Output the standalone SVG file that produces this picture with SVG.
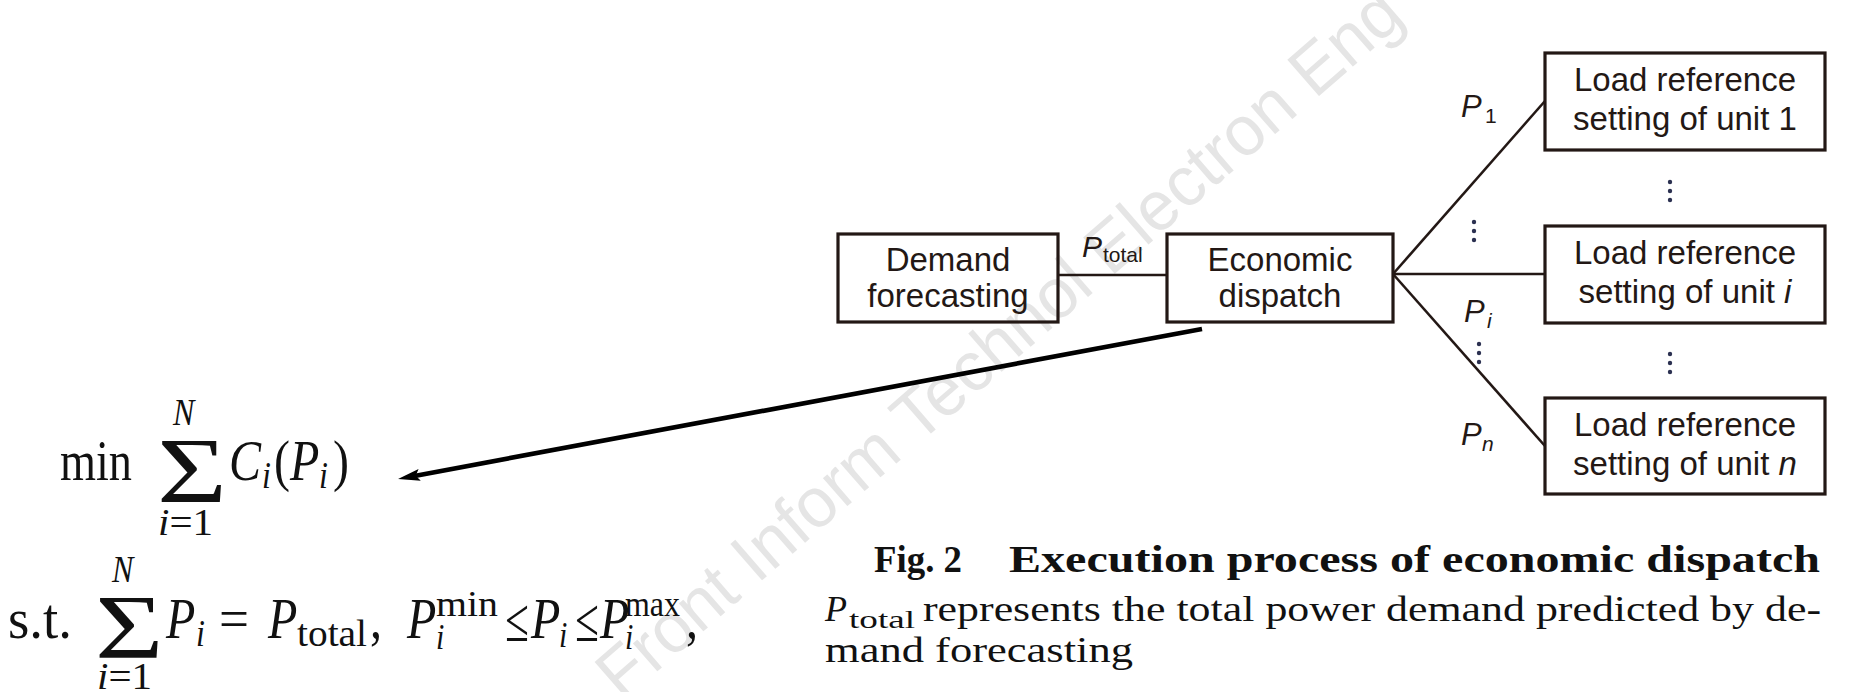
<svg xmlns="http://www.w3.org/2000/svg" width="1851" height="692" viewBox="0 0 1851 692">
<style>
.box{fill:none;stroke:#231815;stroke-width:3.2}
.ln{fill:none;stroke:#231815;stroke-width:2.6}
.bt{font-family:"Liberation Sans",Arial,sans-serif;font-size:33px;fill:#231815;text-anchor:middle}
.pl{font-family:"Liberation Sans",Arial,sans-serif;font-style:italic;fill:#231815}
.ps{font-family:"Liberation Sans",Arial,sans-serif;font-style:normal;fill:#231815}
.m{font-family:"Liberation Serif","Times New Roman",serif;fill:#111}
.it{font-style:italic}
.dot{fill:#2b3050}
.wm{font-family:"Liberation Sans",Arial,sans-serif;font-size:70px;fill:#e5e5e5}
</style>
<defs>
<marker id="ah" viewBox="0 0 22 12" refX="8" refY="6" markerWidth="22" markerHeight="12" markerUnits="userSpaceOnUse" orient="auto">
<path d="M0,0 L22,6 L0,12 L4,6 Z" fill="#000"/>
</marker>
</defs>
<rect width="1851" height="692" fill="#fff"/>
<text class="wm" x="622" y="702" transform="rotate(-41 622 702)" textLength="1040" lengthAdjust="spacingAndGlyphs">Front Inform Technol Electron Eng</text>

<g id="connectors">
<line class="ln" x1="1058" y1="275" x2="1167" y2="275"/>
<line class="ln" x1="1393" y1="274" x2="1545" y2="101"/>
<line class="ln" x1="1393" y1="274" x2="1545" y2="274"/>
<line class="ln" x1="1393" y1="274" x2="1545" y2="446"/>
<line x1="1202" y1="329" x2="411.8" y2="476.4" stroke="#000" stroke-width="4.6" marker-end="url(#ah)"/>
<g id="label-ptotal"><text class="pl" x="1082" y="257" font-size="30">P</text><text class="ps" x="1103" y="262" font-size="21">total</text></g>
<g id="label-p1"><text class="pl" x="1461" y="117" font-size="31">P</text><text class="ps" x="1485" y="123" font-size="21">1</text></g>
<g id="label-pi"><text class="pl" x="1464" y="322" font-size="31">P</text><text class="pl" x="1487" y="328" font-size="21">i</text></g>
<g id="label-pn"><text class="pl" x="1461" y="445" font-size="31">P</text><text class="pl" x="1482" y="451" font-size="21">n</text></g>
<g id="dots">
<circle class="dot" cx="1670" cy="182" r="2.2"/><circle class="dot" cx="1670" cy="191" r="2.2"/><circle class="dot" cx="1670" cy="200" r="2.2"/>
<circle class="dot" cx="1670" cy="354" r="2.2"/><circle class="dot" cx="1670" cy="363" r="2.2"/><circle class="dot" cx="1670" cy="372" r="2.2"/>
<circle class="dot" cx="1474" cy="222" r="2.2"/><circle class="dot" cx="1474" cy="231" r="2.2"/><circle class="dot" cx="1474" cy="240" r="2.2"/>
<circle class="dot" cx="1479" cy="344" r="2.2"/><circle class="dot" cx="1479" cy="353" r="2.2"/><circle class="dot" cx="1479" cy="362" r="2.2"/>
</g>
</g>

<g id="demand">
<rect class="box" x="838" y="234" width="220" height="88"/>
<text class="bt" x="948" y="271">Demand</text>
<text class="bt" x="948" y="307">forecasting</text>
</g>
<g id="economic">
<rect class="box" x="1167" y="234" width="226" height="88"/>
<text class="bt" x="1280" y="271">Economic</text>
<text class="bt" x="1280" y="307">dispatch</text>
</g>
<g id="unit1">
<rect class="box" x="1545" y="53" width="280" height="97"/>
<text class="bt" x="1685" y="91">Load reference</text>
<text class="bt" x="1685" y="130">setting of unit 1</text>
</g>
<g id="uniti">
<rect class="box" x="1545" y="226" width="280" height="97"/>
<text class="bt" x="1685" y="264">Load reference</text>
<text class="bt" x="1685" y="303">setting of unit <tspan font-style="italic">i</tspan></text>
</g>
<g id="unitn">
<rect class="box" x="1545" y="398" width="280" height="96"/>
<text class="bt" x="1685" y="436">Load reference</text>
<text class="bt" x="1685" y="475">setting of unit <tspan font-style="italic">n</tspan></text>
</g>

<g id="formula-objective">
<text class="m" x="60" y="480" font-size="48" textLength="72" lengthAdjust="spacingAndGlyphs" transform="matrix(1 0 0 1.2 0 -96)">min</text>
<text class="m" x="0" y="0" font-size="94" transform="translate(157,502) scale(1.28,1)">Σ</text>
<text class="m it" x="173" y="425" font-size="32" transform="matrix(1 0 0 1.2 0 -85)">N</text>
<text class="m" x="158" y="535" font-size="32" textLength="55" lengthAdjust="spacingAndGlyphs" transform="matrix(1 0 0 1.2 0 -107)"><tspan font-style="italic">i</tspan>=1</text>
<text class="m it" x="229" y="480" font-size="48" transform="matrix(1 0 0 1.2 0 -96)">C</text>
<text class="m it" x="262" y="488" font-size="32" transform="matrix(1 0 0 1.2 0 -97.6)">i</text>
<text class="m" x="274" y="480" font-size="48" transform="matrix(1 0 0 1.2 0 -96)">(</text>
<text class="m it" x="290" y="480" font-size="48" transform="matrix(1 0 0 1.2 0 -96)">P</text>
<text class="m it" x="319" y="488" font-size="32" transform="matrix(1 0 0 1.2 0 -97.6)">i</text>
<text class="m" x="333" y="480" font-size="48" transform="matrix(1 0 0 1.2 0 -96)">)</text>
</g>
<g id="formula-constraint">
<text class="m" x="8" y="638" font-size="48" textLength="64" lengthAdjust="spacingAndGlyphs" transform="matrix(1 0 0 1.2 0 -127.6)">s.t.</text>
<text class="m" x="0" y="0" font-size="92" transform="translate(95,658) scale(1.28,1)">Σ</text>
<text class="m it" x="112" y="582" font-size="32" transform="matrix(1 0 0 1.2 0 -116.4)">N</text>
<text class="m" x="97" y="689" font-size="32" textLength="55" lengthAdjust="spacingAndGlyphs" transform="matrix(1 0 0 1.2 0 -137.8)"><tspan font-style="italic">i</tspan>=1</text>
<text class="m it" x="166" y="638" font-size="48" transform="matrix(1 0 0 1.2 0 -127.6)">P</text>
<text class="m it" x="196" y="646" font-size="32" transform="matrix(1 0 0 1.2 0 -129.2)">i</text>
<text class="m" x="219" y="638" font-size="48" textLength="30" lengthAdjust="spacingAndGlyphs" transform="matrix(1 0 0 1.2 0 -127.6)">=</text>
<text class="m it" x="268" y="638" font-size="48" transform="matrix(1 0 0 1.2 0 -127.6)">P</text>
<text class="m" x="297" y="646" font-size="32" textLength="70" lengthAdjust="spacingAndGlyphs" transform="matrix(1 0 0 1.2 0 -129.2)">total</text>
<text class="m" x="370" y="638" font-size="48" transform="matrix(1 0 0 1.2 0 -127.6)">,</text>
<text class="m it" x="407" y="638" font-size="48" transform="matrix(1 0 0 1.2 0 -127.6)">P</text>
<text class="m" x="436" y="616" font-size="30" textLength="62" lengthAdjust="spacingAndGlyphs" transform="matrix(1 0 0 1.2 0 -123.2)">min</text>
<text class="m it" x="436" y="649" font-size="30" transform="matrix(1 0 0 1.2 0 -129.8)">i</text>
<text class="m" x="505" y="641" font-size="54" transform="matrix(0.8 0 0 1.15 101 -96.15)">≤</text>
<text class="m it" x="531" y="638" font-size="48" transform="matrix(1 0 0 1.2 0 -127.6)">P</text>
<text class="m it" x="559" y="647" font-size="30" transform="matrix(1 0 0 1.2 0 -129.4)">i</text>
<text class="m" x="575" y="641" font-size="54" transform="matrix(0.8 0 0 1.15 115 -96.15)">≤</text>
<text class="m it" x="600" y="638" font-size="48" transform="matrix(1 0 0 1.2 0 -127.6)">P</text>
<text class="m" x="625" y="616" font-size="30" textLength="55" lengthAdjust="spacingAndGlyphs" transform="matrix(1 0 0 1.2 0 -123.2)">max</text>
<text class="m it" x="625" y="649" font-size="30" transform="matrix(1 0 0 1.2 0 -129.8)">i</text>
<text class="m" x="686" y="638" font-size="48" transform="matrix(1 0 0 1.2 0 -127.6)">,</text>
</g>

<g id="caption">
<text class="m" x="874" y="572" font-size="37" font-weight="bold" textLength="88" lengthAdjust="spacingAndGlyphs">Fig. 2</text>
<text class="m" x="1009" y="572" font-size="37" font-weight="bold" textLength="811" lengthAdjust="spacingAndGlyphs">Execution process of economic dispatch</text>
<text class="m it" x="825" y="621" font-size="36">P</text>
<text class="m" x="849" y="628" font-size="26" textLength="66" lengthAdjust="spacingAndGlyphs">total</text>
<text class="m" x="923" y="621" font-size="36" textLength="898" lengthAdjust="spacingAndGlyphs">represents the total power demand predicted by de-</text>
<text class="m" x="825" y="662" font-size="36" textLength="308" lengthAdjust="spacingAndGlyphs">mand forecasting</text>
</g>
</svg>
